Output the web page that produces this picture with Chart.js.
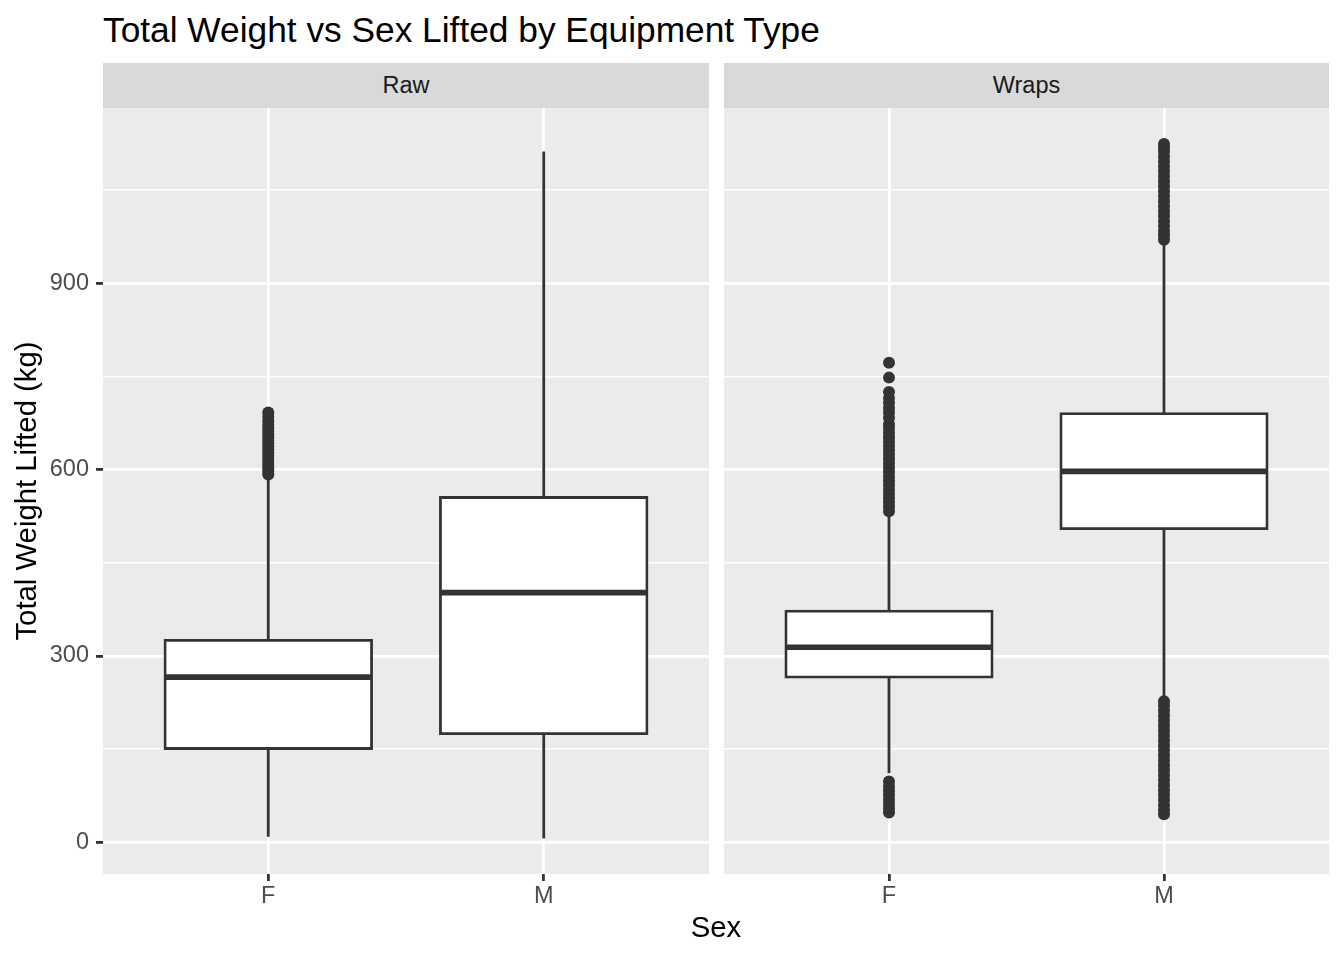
<!DOCTYPE html>
<html>
<head>
  <title>Total Weight vs Sex Lifted by Equipment Type</title>
  <script src="https://cdn.jsdelivr.net/npm/chart.js"></script>
  <style>
    body { margin: 0; background: #FFFFFF; }
    #page { position: relative; width: 1344px; height: 960px; font-family: "Liberation Sans", Arial, sans-serif; overflow: hidden; }
    .abs { position: absolute; }
    .title { left: 103px; top: 12px; font-size: 35.3px; line-height: 35px; color: #000000; white-space: nowrap; }
    .strip { top: 63px; height: 45px; line-height: 45px; background: #D9D9D9; color: #1A1A1A; font-size: 23.5px; text-align: center; }
    .axis-title { font-size: 29.3px; line-height: 30px; height: 30px; color: #000000; text-align: center; white-space: nowrap; }
  </style>
</head>
<body>
<div id="page">
  <div class="abs title">Total Weight vs Sex Lifted by Equipment Type</div>
  <div class="abs strip" style="left:103px; width:606px;">Raw</div>
  <div class="abs strip" style="left:724px; width:605px;">Wraps</div>
  <div class="abs" style="left:0; top:63px;"><canvas id="rawChart" width="709" height="856"></canvas></div>
  <div class="abs" style="left:724px; top:63px;"><canvas id="wrapsChart" width="605" height="856"></canvas></div>
  <div class="abs axis-title" style="left:-274px; top:476px; width:600px; transform: rotate(-90deg);">Total Weight Lifted (kg)</div>
  <div class="abs axis-title" style="left:516px; top:912px; width:400px;">Sex</div>
</div>

<script>
  // Categories and tick values
  var sexes = ['F', 'M'];
  var yTicks = [0, 300, 600, 900];
  var yMinorTicks = [150, 450, 750, 1050];

  // Raw panel box statistics (kg)
  var rawLower = [9, 6];
  var rawQ1 = [151, 175];
  var rawMedian = [266, 402];
  var rawQ3 = [325, 555];
  var rawUpper = [588, 1112];
  var rawOutliersF = [592, 597, 602, 607, 612, 617, 622, 627, 632, 637, 642, 647, 652, 657, 662, 667, 672, 678, 685, 692];
  var rawOutliersM = [];

  // Wraps panel box statistics (kg)
  var wrapsLower = [111, 227];
  var wrapsQ1 = [266, 505];
  var wrapsMedian = [314, 597];
  var wrapsQ3 = [372, 690];
  var wrapsUpper = [531, 970];
  var wrapsOutliersF = [48, 55, 62, 69, 76, 83, 90, 98,
    533, 540, 547, 554, 561, 568, 575, 582, 589, 596, 603, 610, 617, 624, 631, 638, 645, 652, 659, 666, 673, 683,
    692, 699, 707, 715, 725, 748, 772];
  var wrapsOutliersM = [45, 52, 60, 68, 76, 84, 92, 100, 108, 116, 124, 132, 140, 148, 156, 164, 172, 180, 188, 196, 204, 212, 220, 227,
    970, 977, 984, 992, 1000, 1008, 1016, 1024, 1032, 1040, 1048, 1056, 1064, 1072, 1080, 1088, 1096, 1104, 1112, 1119, 1124];

  var dark = '#333333';
  var fontFamily = '"Liberation Sans", Arial, sans-serif';

  // Fill the panel background behind the grid
  var panelBackground = {
    id: 'panelBackground',
    beforeDraw: function (chart) {
      var a = chart.chartArea;
      var c = chart.ctx;
      c.save();
      c.fillStyle = '#EBEBEB';
      c.fillRect(a.left, a.top, a.right - a.left, a.bottom - a.top);
      c.restore();
    }
  };

  function makePanel(id, lower, q1, median, q3, upper, outliers, showY) {
    var datasets = [];

    // median lines
    datasets.push({
      type: 'scatter',
      data: sexes.map(function (s, i) { return { x: i + 1, y: median[i] }; }),
      pointStyle: 'line',
      pointRadius: 103,
      pointHoverRadius: 103,
      borderColor: dark,
      borderWidth: 5.7,
      order: 1
    });

    // boxes (Q1 to Q3)
    datasets.push({
      type: 'bar',
      data: sexes.map(function (s, i) { return { x: i + 1, y: [q1[i], q3[i]] }; }),
      backgroundColor: '#FFFFFF',
      borderColor: dark,
      borderWidth: 2.8,
      borderSkipped: false,
      inflateAmount: 1.4,
      grouped: false,
      barPercentage: 0.75,
      categoryPercentage: 1,
      order: 2
    });

    // whiskers
    sexes.forEach(function (s, i) {
      datasets.push({
        type: 'line',
        data: [{ x: i + 1, y: lower[i] }, { x: i + 1, y: upper[i] }],
        borderColor: dark,
        borderWidth: 2.8,
        pointRadius: 0,
        order: 3
      });
    });

    // outliers
    var pts = [];
    outliers.forEach(function (list, i) {
      list.forEach(function (v) { pts.push({ x: i + 1, y: v }); });
    });
    datasets.push({
      type: 'scatter',
      data: pts,
      pointRadius: 6,
      pointBackgroundColor: dark,
      pointBorderWidth: 0,
      order: 0
    });

    var ctx = document.getElementById(id).getContext('2d');
    return new Chart(ctx, {
      type: 'scatter',
      data: { datasets: datasets },
      plugins: [panelBackground],
      options: {
        responsive: false,
        animation: false,
        layout: { autoPadding: false, padding: { top: 45, left: 0, right: 0, bottom: 0 } },
        plugins: { legend: { display: false }, tooltip: { enabled: false } },
        scales: {
          x: {
            type: 'linear',
            min: 0.4,
            max: 2.6,
            offset: false,
            afterBuildTicks: function (scale) {
              scale.ticks = sexes.map(function (s, i) { return { value: i + 1 }; });
            },
            afterFit: function (scale) { scale.height = 45; },
            ticks: {
              autoSkip: false,
              maxRotation: 0,
              padding: 1,
              color: '#4D4D4D',
              font: { family: fontFamily, size: 23.5 },
              callback: function (v) { return sexes[v - 1]; }
            },
            grid: {
              offset: false,
              color: '#FFFFFF',
              lineWidth: 2.8,
              tickLength: 7,
              tickColor: dark,
              tickWidth: 2.8
            },
            border: { display: false }
          },
          y: {
            type: 'linear',
            min: -51,
            max: 1182,
            afterBuildTicks: function (scale) {
              scale.ticks = yMinorTicks.concat(yTicks)
                .sort(function (a, b) { return a - b; })
                .map(function (v) { return { value: v }; });
            },
            afterFit: function (scale) { scale.width = showY ? 103 : 0; },
            ticks: {
              display: showY,
              autoSkip: false,
              padding: 7,
              color: '#4D4D4D',
              font: { family: fontFamily, size: 23.5 },
              callback: function (v) { return yTicks.indexOf(v) >= 0 ? String(v) : ''; }
            },
            grid: {
              color: '#FFFFFF',
              lineWidth: function (c) { return yTicks.indexOf(c.tick.value) >= 0 ? 2.8 : 1.4; },
              drawTicks: showY,
              tickLength: 7,
              tickWidth: 2.8,
              tickColor: function (c) { return yTicks.indexOf(c.tick.value) >= 0 ? dark : 'rgba(0,0,0,0)'; }
            },
            border: { display: false }
          }
        }
      }
    });
  }

  makePanel('rawChart', rawLower, rawQ1, rawMedian, rawQ3, rawUpper, [rawOutliersF, rawOutliersM], true);
  makePanel('wrapsChart', wrapsLower, wrapsQ1, wrapsMedian, wrapsQ3, wrapsUpper, [wrapsOutliersF, wrapsOutliersM], false);
</script>
</body>
</html>
